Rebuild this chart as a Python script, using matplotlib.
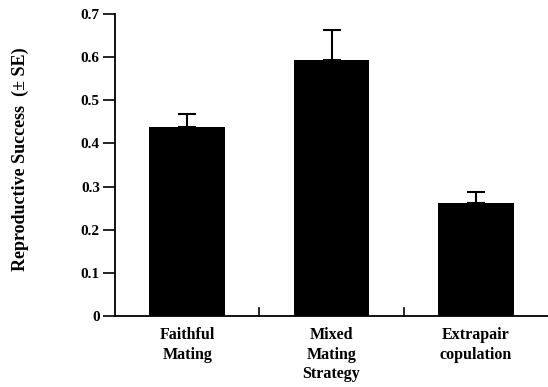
import numpy as np
import matplotlib
matplotlib.use("Agg")
import matplotlib.pyplot as plt

# Mean reproductive success for each mating strategy, with standard errors.
strategies = ["Faithful\nMating", "Mixed\nMating\nStrategy", "Extrapair\ncopulation"]
success = [0.439, 0.593, 0.262]
se = [0.030, 0.070, 0.026]

plt.rcParams["font.family"] = ["Liberation Serif", "DejaVu Serif"]
plt.rcParams["font.weight"] = "bold"
plt.rcParams["axes.labelweight"] = "bold"

fig = plt.figure(figsize=(5.48, 3.87), dpi=100)
ax = fig.add_axes([0.21, 0.183, 0.79, 0.781])

x = np.arange(len(strategies))
ax.bar(x, success, width=0.526, color="black")
ax.errorbar(x, success, yerr=[np.zeros(len(se)), se], fmt="none",
            ecolor="black", elinewidth=1.5, capsize=6.5, capthick=1.5)

ax.set_xlim(-0.5, 2.5)
ax.set_ylim(0, 0.7)
ax.set_yticks(np.arange(0, 0.71, 0.1))
ax.set_yticklabels(["0", "0.1", "0.2", "0.3", "0.4", "0.5", "0.6", "0.7"])
ax.tick_params(axis="y", direction="out", length=9, width=1.2,
               labelsize=11, pad=2)

# category names under the bars, small ticks between them
ax.set_xticks(x)
ax.set_xticklabels(strategies, fontsize=11.5, linespacing=1.3)
ax.tick_params(axis="x", length=0, pad=8)
for xm in [0.5, 1.5]:
    ax.plot([xm, xm], [0, 0.019], color="black", lw=1.2, clip_on=False)

ax.spines["top"].set_visible(False)
ax.spines["right"].set_visible(False)
ax.spines["left"].set_linewidth(1.3)
ax.spines["bottom"].set_linewidth(1.3)

ax.set_ylabel("Reproductive Success  (\u00b1 SE)", fontsize=13)
ax.yaxis.set_label_coords(-0.198, 0.52)

fig.savefig("out.png", dpi=100)
